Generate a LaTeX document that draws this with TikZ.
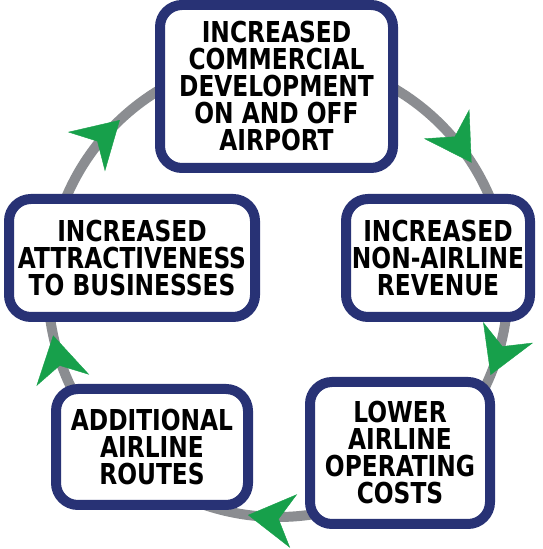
\documentclass[tikz,border=0pt]{standalone}
\usepackage{fontspec}
\newfontfamily\cyclefont{DejaVu Sans Condensed}[FakeStretch=0.9]
\usetikzlibrary{arrows.meta,decorations.markings,backgrounds}
\definecolor{boxnavy}{HTML}{283275}
\definecolor{ringgray}{HTML}{8B8D91}
\definecolor{arrowgreen}{HTML}{17A04B}

\tikzset{
  stage/.style={draw=boxnavy,line width=10pt,rounded corners=22pt,fill=white,
    inner sep=0pt,align=center,font=\cyclefont\bfseries\fontsize{28.8}{27}\selectfont},
  ring/.style={draw=ringgray,line width=10pt},
  flow/.style={ring,postaction={decorate},decoration={markings,
    mark=at position #1 with {\arrow[arrowgreen,line width=0.4pt]{Stealth[length=46pt,width=54pt,inset=15pt]}}}}
}

\begin{document}
\begin{tikzpicture}[x=1pt,y=1pt]
\useasboundingbox (0,0) rectangle (543,549);

% Stages of the cycle
\node[stage,minimum width=233pt,minimum height=163pt] (dev) at (276.5,462.5)
  {INCREASED\\COMMERCIAL\\DEVELOPMENT\\ON AND OFF\\AIRPORT};
\node[stage,minimum width=184pt,minimum height=118pt] (rev) at (438,291)
  {INCREASED\\NON-AIRLINE\\REVENUE};
\node[stage,minimum width=180pt,minimum height=142pt] (costs) at (400,96)
  {LOWER\\AIRLINE\\OPERATING\\COSTS};
\node[stage,minimum width=192pt,minimum height=116pt] (routes) at (152,102)
  {ADDITIONAL\\AIRLINE\\ROUTES};
\node[stage,minimum width=246pt,minimum height=118pt] (attr) at (132,291)
  {INCREASED\\ATTRACTIVENESS\\TO BUSINESSES};

% Ring points hidden under each stage
\coordinate (hub) at (278,262);
\foreach \name/\ang in {dev/90,rev/7,costs/-60,routes/-135,attr/172} {
  \path (hub) ++(\ang:230) coordinate (on-\name);
}

% Ring with flow arrows
\begin{pgfonlayer}{background}
\draw[flow=0.62] (on-routes) arc[start angle=225,end angle=172,radius=230];
\draw[flow=0.47] (on-attr) arc[start angle=172,end angle=90,radius=230];
\draw[flow=0.69] (on-dev) arc[start angle=90,end angle=7,radius=230];
\draw[flow=0.44] (on-rev) arc[start angle=7,end angle=-60,radius=230];
\draw[flow=0.50] (on-costs) arc[start angle=-60,end angle=-135,radius=230];
\end{pgfonlayer}
\end{tikzpicture}
\end{document}
